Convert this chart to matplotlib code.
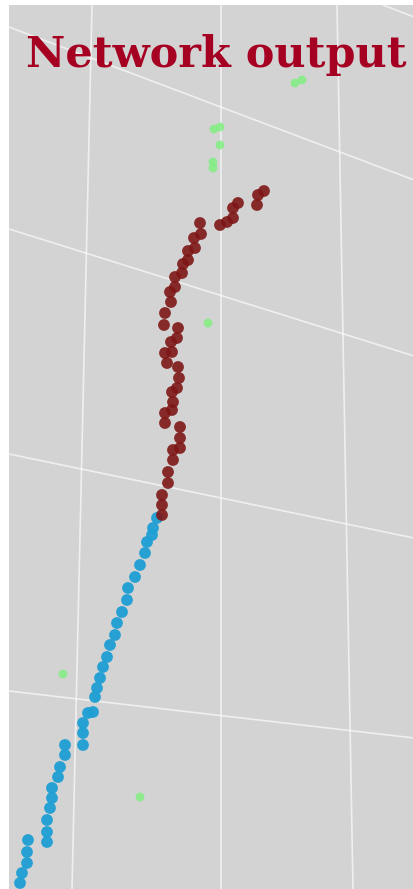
import matplotlib.pyplot as plt

# point positions as seen on the projected 3d view (pixel-like units, y down)
red_x = [264, 258, 257, 238, 233, 233, 227, 220, 200, 201, 194, 195, 188, 188, 183, 182,
         175, 175, 170, 171, 165, 164, 178, 177, 171, 172, 165, 167, 178, 179, 177, 172,
         173, 172, 165, 165, 180, 180, 180, 173, 173, 168, 168, 162, 162, 162]
red_y = [191, 195, 205, 203, 208, 218, 222, 225, 223, 234, 238, 248, 251, 260, 264, 273,
         277, 287, 292, 302, 313, 325, 328, 338, 342, 352, 353, 363, 367, 378, 388, 392,
         402, 410, 413, 423, 427, 438, 448, 450, 460, 472, 483, 495, 505, 515]

blue_x = [157, 153, 152, 147, 145, 140, 135, 128, 127, 122, 117, 115, 110, 107, 103, 100,
          97, 95, 93, 88, 83, 83, 83, 65, 65, 60, 58, 52, 52, 50, 47, 47, 47, 28, 27, 27, 22, 20]
blue_y = [518, 528, 535, 542, 553, 565, 577, 588, 600, 612, 623, 635, 645, 657, 667, 678,
          688, 697, 712, 713, 723, 733, 745, 745, 755, 767, 777, 788, 798, 808, 820, 832,
          842, 840, 852, 863, 873, 883]

green_x = [295, 302, 214, 220, 220, 213, 213, 208, 63, 140]
green_y = [83, 80, 129, 127, 145, 162, 168, 323, 674, 797]

# perspective grid lines (start x, start y, end x, end y)
grid_lines = [
    (383, 5, 414, 17),
    (9, 27, 414, 180),
    (9, 229, 414, 356),
    (9, 454, 414, 538),
    (9, 691, 414, 738),
    (92, 5, 72, 889),
    (221, 5, 221, 889),
    (337, 5, 353, 889),
]

fig = plt.figure(figsize=(4.14, 8.89), dpi=100, facecolor='white')
ax = fig.add_axes([9 / 414, 0, 405 / 414, 884 / 889])
ax.set_facecolor('#d3d3d3')
ax.set_xlim(9, 414)
ax.set_ylim(889, 5)
ax.set_xticks([])
ax.set_yticks([])
for s in ax.spines.values():
    s.set_visible(False)

for x0, y0, x1, y1 in grid_lines:
    ax.plot([x0, x1], [y0, y1], color='white', lw=1.2, alpha=0.65, zorder=1)

ax.scatter(green_x, green_y, s=40, color='#7cf07c', alpha=0.8, edgecolors='none', zorder=2)
ax.scatter(blue_x, blue_y, s=72, color='#1e9fd3', alpha=0.95, edgecolors='none', zorder=3)
ax.scatter(red_x, red_y, s=72, color='#7e1616', alpha=0.9, edgecolors='none', zorder=4)

ax.text(26, 67, 'Network output', color='#a50021', fontsize=31, fontweight='bold',
        family='DejaVu Serif', va='baseline', ha='left', zorder=5, clip_on=False)

fig.savefig('out.png', dpi=100, facecolor='white')
